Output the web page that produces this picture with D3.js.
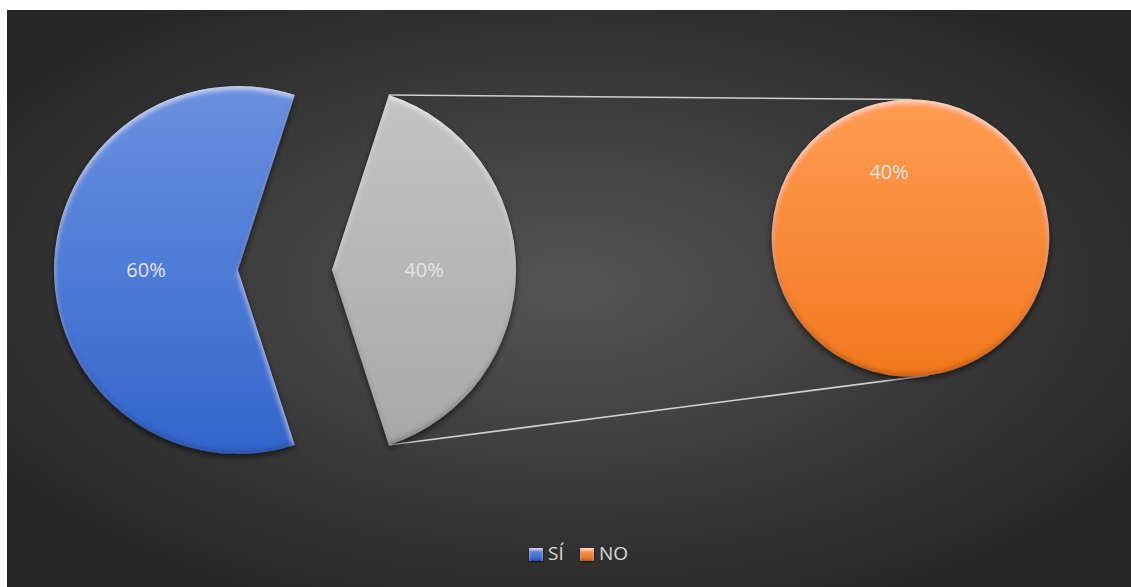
<!DOCTYPE html>
<html>
<head>
<meta charset="utf-8">
<script src="https://cdn.jsdelivr.net/npm/d3@7"></script>
<style>
  html, body { margin: 0; padding: 0; background: #ffffff; }
  svg { display: block; }
  text { font-family: "Open Sans", "Liberation Sans", sans-serif; }
</style>
</head>
<body>
<svg id="chart" width="1131" height="587"></svg>
<script>
// Survey answers (percent)
const categories = ["SÍ", "NO"];
const values = [60, 40];
// Main pie: first answer plus the aggregated slice that is broken out
const mainSlices = ["SÍ", "Otros"];
const mainValues = [60, 40];
// Secondary pie: what the aggregated slice contains
const secondSlices = ["NO"];
const secondValues = [40];

const seriesColors = {
  "SÍ":    ["#6a90e0", "#3366cc"],
  "Otros": ["#c4c4c4", "#a8a8a8"],
  "NO":    ["#ff9c52", "#f27820"]
};
const legendColors = { "SÍ": ["#6b91e0", "#2f5fbf"], "NO": ["#ffa060", "#e06a18"] };

const W = 1131, H = 587;
const frame = { x: 7, y: 10, w: W - 7, h: H - 10 };
const mainC = { x: 238, y: 270, r: 184 };
const explode = 94;
const secC = { x: 910.5, y: 238, r: 138.5 };
const deg = Math.PI / 180;
const start = 162 * deg;

const svg = d3.select("#chart");
const defs = svg.append("defs");

// Dark radial background
const bg = defs.append("radialGradient").attr("id", "bg")
  .attr("cx", "50%").attr("cy", "48%").attr("r", "62%");
bg.append("stop").attr("offset", "0%").attr("stop-color", "#555555");
bg.append("stop").attr("offset", "100%").attr("stop-color", "#252525");

function vGrad(id, c) {
  const g = defs.append("linearGradient").attr("id", id)
    .attr("x1", 0).attr("y1", 0).attr("x2", 0).attr("y2", 1);
  g.append("stop").attr("offset", "0%").attr("stop-color", c[0]);
  g.append("stop").attr("offset", "100%").attr("stop-color", c[1]);
}
Object.entries(seriesColors).forEach(([k, c], i) => vGrad("g" + i, c));
const gradId = k => "url(#g" + Object.keys(seriesColors).indexOf(k) + ")";
Object.entries(legendColors).forEach(([k, c], i) => vGrad("lg" + i, c));

// Soft bevel + drop shadow
function bevel(id, blur, off, shadow) {
  const f = defs.append("filter").attr("id", id)
    .attr("x", "-10%").attr("y", "-10%").attr("width", "120%").attr("height", "125%");
  f.append("feGaussianBlur").attr("in", "SourceAlpha").attr("stdDeviation", blur).attr("result", "b");
  f.append("feOffset").attr("in", "b").attr("dx", 0).attr("dy", off).attr("result", "bd");
  f.append("feComposite").attr("in", "SourceAlpha").attr("in2", "bd").attr("operator", "arithmetic")
    .attr("k2", 1).attr("k3", -1).attr("result", "top");
  f.append("feFlood").attr("flood-color", "#ffffff").attr("flood-opacity", 0.55);
  f.append("feComposite").attr("in2", "top").attr("operator", "in").attr("result", "hl");
  f.append("feOffset").attr("in", "b").attr("dx", 0).attr("dy", -off).attr("result", "bu");
  f.append("feComposite").attr("in", "SourceAlpha").attr("in2", "bu").attr("operator", "arithmetic")
    .attr("k2", 1).attr("k3", -1).attr("result", "bot");
  f.append("feFlood").attr("flood-color", "#000000").attr("flood-opacity", 0.45);
  f.append("feComposite").attr("in2", "bot").attr("operator", "in").attr("result", "sh");
  f.append("feOffset").attr("in", "SourceAlpha").attr("dx", 0).attr("dy", shadow).attr("result", "so");
  f.append("feGaussianBlur").attr("in", "so").attr("stdDeviation", shadow).attr("result", "sb");
  f.append("feFlood").attr("flood-color", "#000000").attr("flood-opacity", 0.6);
  f.append("feComposite").attr("in2", "sb").attr("operator", "in").attr("result", "ds");
  const m = f.append("feMerge");
  ["ds", "SourceGraphic", "hl", "sh"].forEach(n => m.append("feMergeNode").attr("in", n));
}
bevel("bevel", 2.5, 3, 3);
bevel("bevelSmall", 1.2, 1.5, 1);

svg.append("rect").attr("x", frame.x).attr("y", frame.y)
  .attr("width", frame.w).attr("height", frame.h).attr("fill", "url(#bg)");

// Main pie
const pie = d3.pie().sort(null).startAngle(start).endAngle(start + 2 * Math.PI);
const mainArcs = pie(mainValues).map((d, i) => ({ ...d, key: mainSlices[i] }));
const arcMain = d3.arc().innerRadius(0).outerRadius(mainC.r);

function sliceOffset(d) {
  if (d.key !== "Otros") return [0, 0];
  const a = (d.startAngle + d.endAngle) / 2;
  return [explode * Math.sin(a), -explode * Math.cos(a)];
}

// Connector lines from the broken-out slice to the secondary pie (tangents)
const other = mainArcs.find(d => d.key === "Otros");
const [ox, oy] = sliceOffset(other);
const corner = a => ({ x: mainC.x + ox + mainC.r * Math.sin(a), y: mainC.y + oy - mainC.r * Math.cos(a) });
function tangent(p, side) {
  const dx = secC.x - p.x, dy = secC.y - p.y;
  const d = Math.hypot(dx, dy);
  const a = Math.atan2(dy, dx) + side * Math.asin(secC.r / d);
  const L = Math.sqrt(d * d - secC.r * secC.r);
  return { x: p.x + L * Math.cos(a), y: p.y + L * Math.sin(a) };
}
const pTop = corner(other.startAngle), pBot = corner(other.endAngle);
const links = [[pTop, tangent(pTop, -1)], [pBot, tangent(pBot, 1)]];
svg.append("g").selectAll("line").data(links).join("line")
  .attr("x1", d => d[0].x).attr("y1", d => d[0].y)
  .attr("x2", d => d[1].x).attr("y2", d => d[1].y)
  .attr("stroke", "#d0d0d0").attr("stroke-width", 1.6);

const gMain = svg.append("g").attr("transform", `translate(${mainC.x},${mainC.y})`);
gMain.selectAll("path").data(mainArcs).join("path")
  .attr("d", arcMain)
  .attr("transform", d => `translate(${sliceOffset(d)})`)
  .attr("fill", d => gradId(d.key))
  .attr("filter", "url(#bevel)");

gMain.selectAll("text").data(mainArcs).join("text")
  .attr("transform", d => {
    const [cx, cy] = arcMain.centroid(d);
    const [dx, dy] = sliceOffset(d);
    return `translate(${cx + dx},${cy + dy})`;
  })
  .attr("text-anchor", "middle").attr("dy", "0.36em")
  .attr("font-size", 20).attr("fill", "#e4e4e4")
  .text(d => d.value + "%");

// Secondary pie
const secArcs = pie(secondValues).map((d, i) => ({ ...d, key: secondSlices[i] }));
const arcSec = d3.arc().innerRadius(0).outerRadius(secC.r);
const gSec = svg.append("g").attr("transform", `translate(${secC.x},${secC.y})`);
gSec.selectAll("path").data(secArcs).join("path")
  .attr("d", arcSec)
  .attr("fill", d => gradId(d.key))
  .attr("filter", "url(#bevel)");
gSec.selectAll("text").data(secArcs).join("text")
  .attr("transform", d => `translate(${arcSec.centroid(d)})`)
  .attr("text-anchor", "middle").attr("dy", "0.36em")
  .attr("font-size", 20).attr("fill", "#e4e4e4")
  .text(d => d.value + "%");

// Legend
const legendX = [529, 580];
const lg = svg.append("g");
const items = lg.selectAll("g").data(categories).join("g")
  .attr("transform", (d, i) => `translate(${legendX[i]},548)`);
items.append("rect").attr("width", 14).attr("height", 13)
  .attr("fill", (d, i) => "url(#lg" + i + ")").attr("filter", "url(#bevelSmall)");
items.append("text").attr("x", 19).attr("y", 12)
  .attr("font-size", 19).attr("fill", "#d9d9d9")
  .text(d => d);
</script>
</body>
</html>
